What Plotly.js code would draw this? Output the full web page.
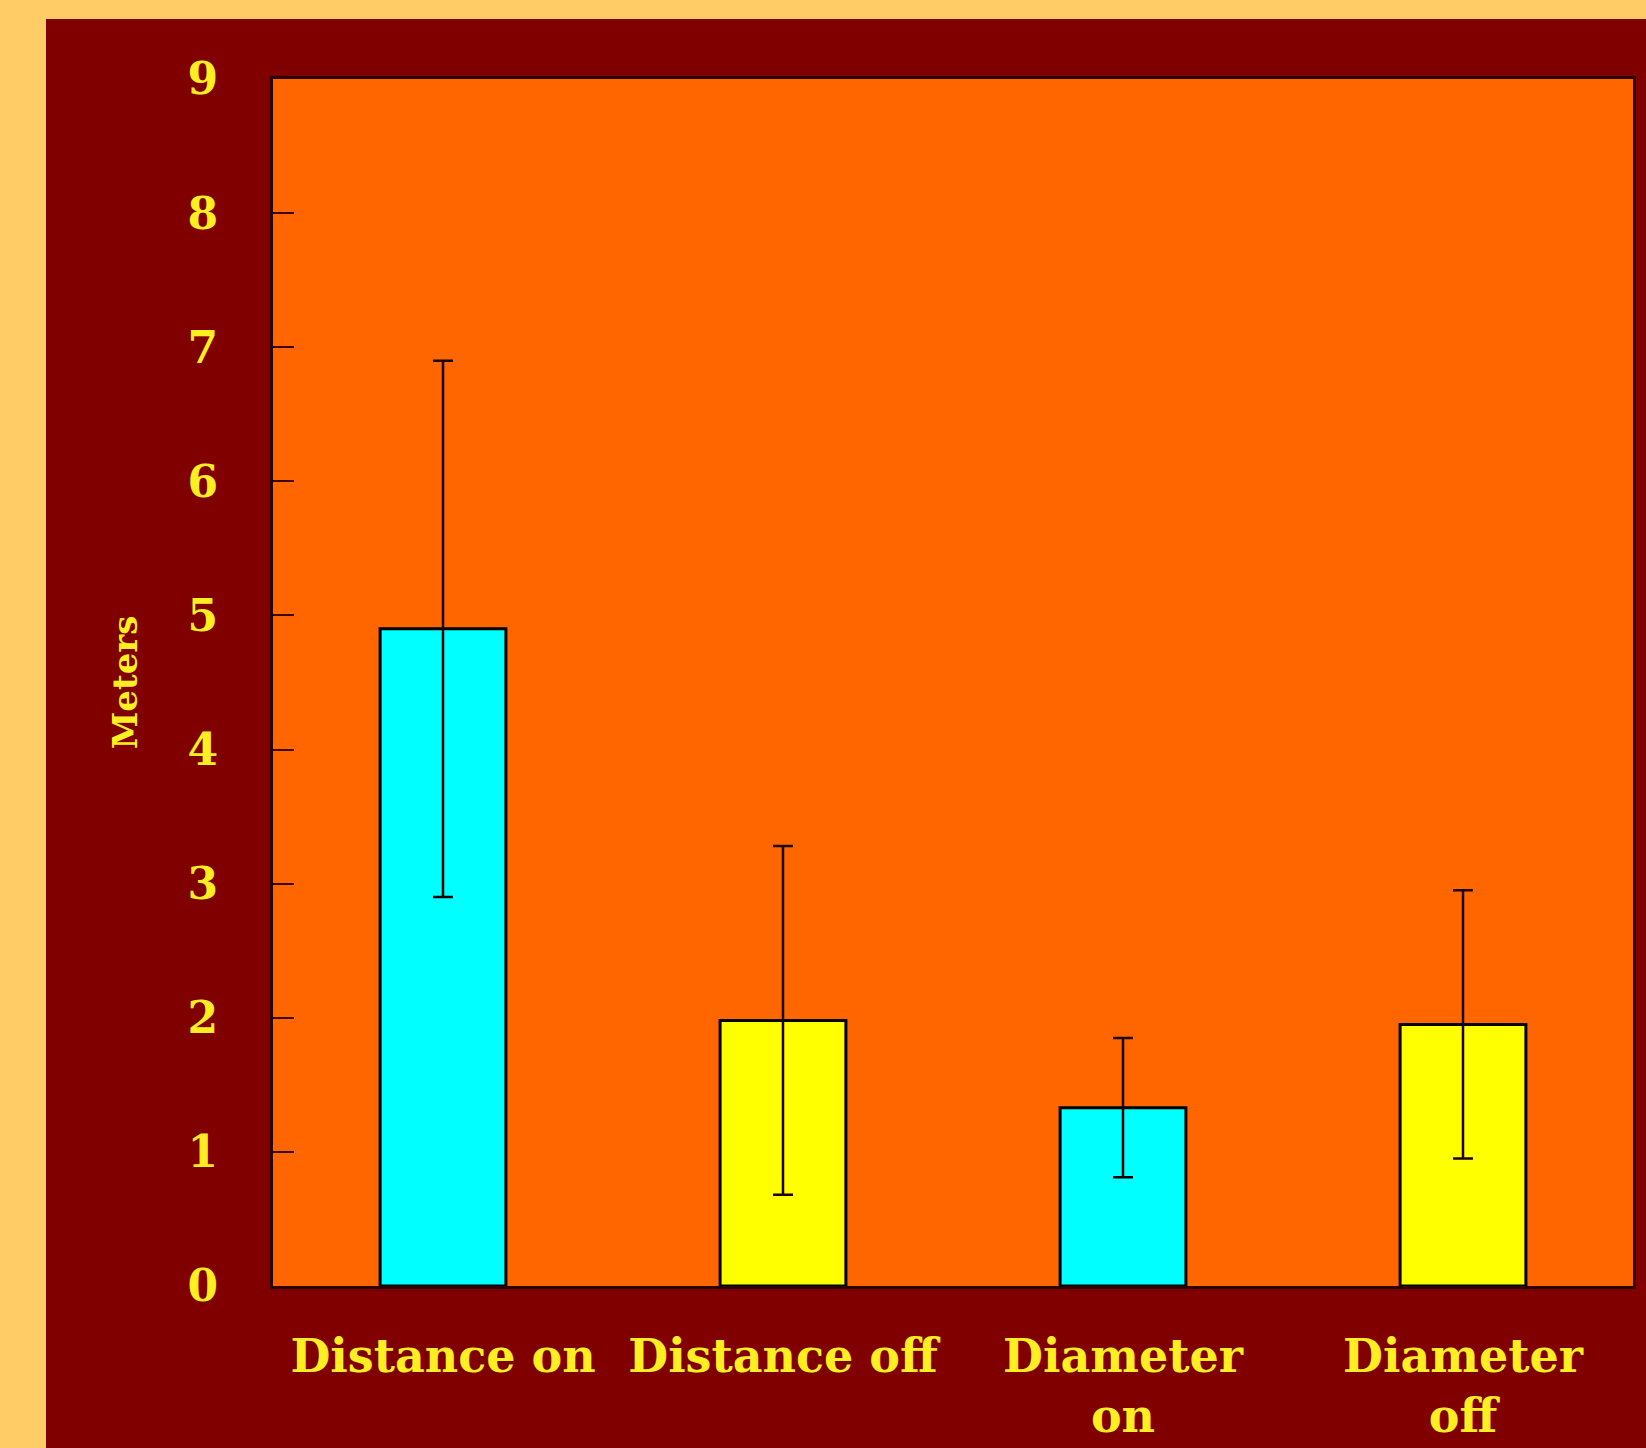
<!DOCTYPE html>
<html>
<head>
<meta charset="utf-8">
<script src="https://cdn.plot.ly/plotly-3.0.1.min.js"></script>
<style>
  html, body { margin: 0; padding: 0; background: #FFCC66; width: 1646px; height: 1448px; overflow: hidden; }
  #chart { position: absolute; left: 46px; top: 19px; width: 1600px; height: 1429px; }
</style>
</head>
<body>
<div id="chart"></div>
<script>
const categories = ["Distance on", "Distance off", "Diameter<br>on", "Diameter<br>off"];
const values = [4.9, 1.98, 1.33, 1.95];
const errors = [2.0, 1.3, 0.52, 1.0];
const barColors = ["#00FFFF", "#FFFF00", "#00FFFF", "#FFFF00"];
const yTickValues = [0, 1, 2, 3, 4, 5, 6, 7, 8, 9];
const yTitle = "Meters";

const textYellow = "#FFEE22";
const fontFamily = "'DejaVu Serif', 'Liberation Serif', serif";

const trace = {
  type: "bar",
  x: categories,
  y: values,
  marker: { color: barColors, line: { color: "#000000", width: 3 } },
  error_y: { type: "data", array: errors, visible: true, color: "#1a0000", thickness: 2.5, width: 10 },
  hoverinfo: "x+y"
};

const layout = {
  width: 1600,
  height: 1429,
  margin: { l: 227, r: 13, t: 60, b: 162 },
  paper_bgcolor: "#800000",
  plot_bgcolor: "#FF6600",
  showlegend: false,
  bargap: 0.63,
  xaxis: {
    type: "category",
    showgrid: false,
    zeroline: false,
    showline: true,
    mirror: true,
    linecolor: "#2a0000",
    linewidth: 3,
    ticks: "",
    ticklabelstandoff: 28,
    tickfont: { family: fontFamily, size: 46, color: textYellow, weight: "bold" }
  },
  yaxis: {
    range: [0, 9],
    tickvals: yTickValues,
    ticktext: yTickValues.map(String),
    showgrid: false,
    zeroline: false,
    showline: true,
    mirror: true,
    linecolor: "#2a0000",
    linewidth: 3,
    ticks: "inside",
    ticklen: 21,
    tickwidth: 2,
    tickcolor: "#3a0000",
    ticklabelstandoff: 43,
    tickfont: { family: fontFamily, size: 44, color: textYellow, weight: "bold" },
    title: { text: yTitle, standoff: 40, font: { family: fontFamily, size: 34, color: textYellow, weight: "bold" } }
  }
};

Plotly.newPlot("chart", [trace], layout, { displayModeBar: false, staticPlot: true });
</script>
</body>
</html>
